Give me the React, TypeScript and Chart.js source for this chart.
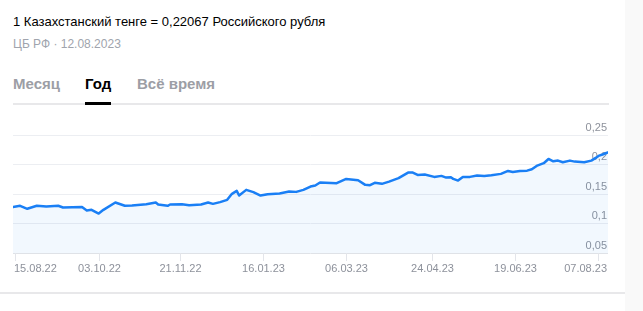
import React, { useEffect, useRef } from "react";
import { Chart, registerables } from "chart.js";

Chart.register(...registerables);

// business-day index of each sampled point
const dayIndex = [0,3,6,10,14,19,21,29,31,33,36,38,43,47,50,56,60,61,65,66,71,74,79,82,84,87,90,92,94,95,98,101,104,107,112,116,119,122,125,127,129,136,140,145,148,150,152,155,158,162,166,168,170,173,177,180,182,184,185,187,189,192,195,198,201,205,208,210,213,216,218,220,223,225,227,229,231,234,236,240,243,245,246,248,249,250];
// KZT → RUB rate
const rates = [0.1278,0.1300,0.1249,0.1300,0.1288,0.1300,0.1271,0.1278,0.1220,0.1232,0.1169,0.1232,0.1355,0.1300,0.1305,0.1328,0.1355,0.1322,0.1300,0.1322,0.1328,0.1311,0.1322,0.1355,0.1333,0.1362,0.1401,0.1503,0.1553,0.1474,0.1570,0.1531,0.1474,0.1497,0.1508,0.1541,0.1536,0.1570,0.1626,0.1643,0.1694,0.1683,0.1756,0.1734,0.1655,0.1650,0.1689,0.1672,0.1710,0.1768,0.1863,0.1863,0.1824,0.1829,0.1790,0.1807,0.1778,0.1785,0.1756,0.1727,0.1790,0.1790,0.1812,0.1807,0.1819,0.1841,0.1891,0.1874,0.1891,0.1896,0.1920,0.1976,0.2022,0.2094,0.2055,0.2066,0.2038,0.2066,0.2049,0.2038,0.2066,0.2116,0.2145,0.2174,0.2191,0.2207];

const xTickIndex = [1, 36, 70, 105, 140, 176, 211, 246];
const xTickLabels = ["15.08.22", "03.10.22", "21.11.22", "16.01.23", "06.03.23", "24.04.23", "19.06.23", "07.08.23"];
const yTickValues = [0.05, 0.1, 0.15, 0.2, 0.25];
const yTickLabels = ["0,05", "0,1", "0,15", "0,2", "0,25"];

const FONT = '"Liberation Sans", Arial, sans-serif';

const axisPlugin = {
  id: "axisLabels",
  beforeDatasetsDraw(chart: any) {
    const { ctx, chartArea, scales } = chart;
    const y = scales.y;
    ctx.save();
    ctx.font = `11px ${FONT}`;
    ctx.fillStyle = "#8d919b";
    ctx.textAlign = "right";
    ctx.textBaseline = "alphabetic";
    yTickValues.forEach((v, i) => {
      const py = y.getPixelForValue(v);
      ctx.fillText(yTickLabels[i], chartArea.right - 1, py - 4.5);
    });
    ctx.restore();
  },
  afterDraw(chart: any) {
    const { ctx, chartArea, scales } = chart;
    const x = scales.x;
    ctx.save();
    ctx.strokeStyle = "#e3e5ea";
    ctx.lineWidth = 1;
    ctx.font = `11px ${FONT}`;
    ctx.fillStyle = "#8d919b";
    ctx.textBaseline = "alphabetic";
    xTickIndex.forEach((v, i) => {
      const px = Math.round(x.getPixelForValue(v)) + 0.5;
      ctx.beginPath();
      ctx.moveTo(px, chartArea.bottom);
      ctx.lineTo(px, chartArea.bottom + 8);
      ctx.stroke();
      let tx = px;
      if (i === 0) {
        ctx.textAlign = "left";
        tx = px - 1.5;
      } else if (i === xTickIndex.length - 1) {
        ctx.textAlign = "right";
        tx = chartArea.right - 1;
      } else {
        ctx.textAlign = "center";
      }
      ctx.fillText(xTickLabels[i], tx, chartArea.bottom + 19);
    });
    ctx.restore();
  },
};

function RateChart() {
  const ref = useRef<HTMLCanvasElement | null>(null);
  useEffect(() => {
    if (!ref.current) return;
    const points = dayIndex.map((d, i) => ({ x: d, y: rates[i] }));
    const chart = new Chart(ref.current, {
      type: "line",
      data: {
        datasets: [
          {
            data: points,
            borderColor: "#1a7ff5",
            borderWidth: 2.5,
            backgroundColor: "rgba(27,126,244,0.055)",
            fill: "start",
            pointRadius: 0,
            tension: 0,
            borderJoinStyle: "round",
            borderCapStyle: "round",
          },
        ],
      },
      options: {
        animation: false,
        responsive: false,
        maintainAspectRatio: false,
        layout: { padding: { left: 13, right: 17, top: 25, bottom: 37 } },
        plugins: { legend: { display: false }, tooltip: { enabled: false } },
        scales: {
          x: { type: "linear", min: 0, max: 250, display: false },
          y: {
            min: 0.05,
            max: 0.25,
            ticks: { display: false, stepSize: 0.05 },
            border: { display: false },
            grid: {
              drawTicks: false,
              color: (c: any) => (c.index === 0 ? "#dfe2e7" : "#eceef2"),
              lineWidth: 1,
            },
          },
        },
      },
      plugins: [axisPlugin],
    });
    return () => chart.destroy();
  }, []);
  return (
    <canvas
      ref={ref}
      width={625}
      height={180}
      style={{ position: "absolute", left: 0, top: 110, width: 625, height: 180 }}
    />
  );
}

export default function App() {
  return (
    <div style={{ position: "fixed", inset: 0, background: "#fff", fontFamily: FONT, overflow: "hidden" }}>
      <div style={{ position: "absolute", left: 625, top: 0, right: 0, bottom: 0, background: "#f9f9f9" }} />
      <div style={{ position: "absolute", left: 13, top: 14, fontSize: 13, lineHeight: "16px", color: "#000", whiteSpace: "nowrap" }}>
        1 Казахстанский тенге = 0,22067 Российского рубля
      </div>
      <div style={{ position: "absolute", left: 13, top: 36, fontSize: 12, lineHeight: "16px", color: "#a0a4ad", whiteSpace: "nowrap" }}>
        ЦБ РФ · 12.08.2023
      </div>
      <div style={{ position: "absolute", left: 13, top: 74, fontSize: 15, lineHeight: "20px", fontWeight: 700, color: "#9c9ea5", whiteSpace: "nowrap" }}>
        Месяц
      </div>
      <div style={{ position: "absolute", left: 85, top: 74, fontSize: 15, lineHeight: "20px", fontWeight: 700, color: "#000", whiteSpace: "nowrap" }}>
        Год
      </div>
      <div style={{ position: "absolute", left: 137, top: 74, fontSize: 15, lineHeight: "20px", fontWeight: 700, color: "#9c9ea5", whiteSpace: "nowrap" }}>
        Всё время
      </div>
      <div style={{ position: "absolute", left: 13, top: 103, width: 596, height: 2, background: "#e8e8ea" }} />
      <div style={{ position: "absolute", left: 85, top: 102, width: 26, height: 3, background: "#000" }} />
      <RateChart />
      <div style={{ position: "absolute", left: 0, top: 292, width: 625, height: 2, background: "#e8e8ea" }} />
    </div>
  );
}
